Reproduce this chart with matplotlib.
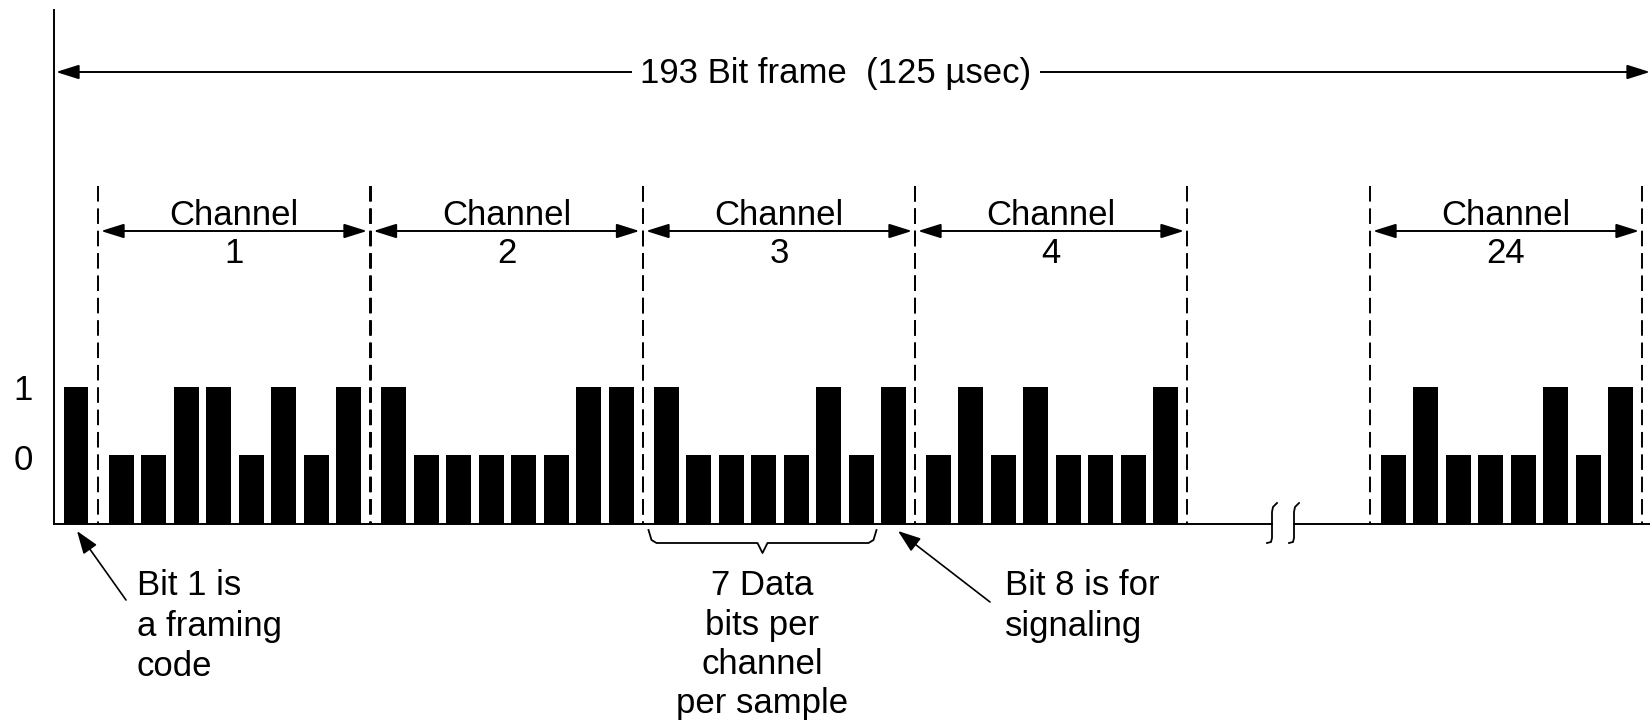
import matplotlib.pyplot as plt
from matplotlib.patches import FancyArrowPatch

plt.rcParams['font.family'] = ['Liberation Sans', 'DejaVu Sans']

# bit values
framing_bit = 1
channel_names = ['1', '2', '3', '4', '24']
channel_bits = [
    [0, 0, 1, 1, 0, 1, 0, 1],
    [1, 0, 0, 0, 0, 0, 1, 1],
    [1, 0, 0, 0, 0, 1, 0, 1],
    [0, 1, 0, 1, 0, 0, 0, 1],
    [0, 1, 0, 0, 0, 1, 0, 1],
]
level_labels = ['1', '0']
frame_label = '193 Bit frame  (125 \u00b5sec)'
note_framing = ['Bit 1 is', 'a framing', 'code']
note_data = ['7 Data', 'bits per', 'channel', 'per sample']
note_signal = ['Bit 8 is for', 'signaling']

# layout (pixel coords of the 1650x723 canvas)
W, H = 1650, 723
BASE = 524          # baseline of the bars
ZERO_H = 69         # height of a "0" bar
STEP = 68           # extra height of a "1" bar
BAR_W = 25
PITCH = 32.5
FIRST = 23          # offset of first bar centre from channel edge
CH_W = 272
channel_left = [98, 370.5, 643, 915, 1370]
FS = 25

fig = plt.figure(figsize=(16.5, 7.23), dpi=100)
ax = fig.add_axes([0, 0, 1, 1])
ax.set_xlim(0, W)
ax.set_ylim(H, 0)
ax.axis('off')

def bar_h(b):
    return ZERO_H + b * STEP

# axes lines
ax.plot([54, 54], [10, BASE], color='black', lw=1.4)
ax.plot([54, 1272], [BASE, BASE], color='black', lw=1.4)
ax.plot([1294, W], [BASE, BASE], color='black', lw=1.4)
# break marks on the time axis
for bx in [1272, 1294]:
    ax.plot([bx + 5, bx + 1, bx, bx, bx - 1, bx - 5],
            [503, 507, 512, 538, 542, 543], color='black', lw=1.3)

# framing bit
ax.bar([channel_left[0] - 22.5], [-bar_h(framing_bit)], bottom=BASE,
       width=24, color='black')

# channels
for left, name, bits in zip(channel_left, channel_names, channel_bits):
    xs = [left + FIRST + i * PITCH for i in range(len(bits))]
    ax.bar(xs, [-bar_h(b) for b in bits], bottom=BASE, width=BAR_W,
           color='black')
    right = left + CH_W
    for dx in [left, right]:
        ax.plot([dx, dx], [186, BASE], color='black', lw=1.4,
                dashes=(8, 3.5))
    ax.add_patch(FancyArrowPatch((left + 3, 231), (right - 3, 231),
                                 arrowstyle='<|-|>,head_length=0.7,head_width=0.22',
                                 mutation_scale=20, color='black', lw=1.4,
                                 shrinkA=0, shrinkB=0))
    cx = left + CH_W / 2
    ax.text(cx, 225, 'Channel', ha='center', va='baseline', fontsize=FS)
    ax.text(cx, 263, name, ha='center', va='baseline', fontsize=FS)

# level labels
for lab, yb in zip(level_labels, [400, 470]):
    ax.text(23, yb, lab, ha='center', va='baseline', fontsize=FS)

# frame length arrow
ax.add_patch(FancyArrowPatch((56, 72), (W, 72),
                             arrowstyle='<|-|>,head_length=0.7,head_width=0.22',
                             mutation_scale=20, color='black', lw=1.4,
                             shrinkA=0, shrinkB=0))
ax.text(836, 83, frame_label, ha='center', va='baseline', fontsize=FS,
        bbox=dict(facecolor='white', edgecolor='none', pad=6))

# annotation: framing bit
ax.annotate('', xy=(77, 531), xytext=(126, 600),
            arrowprops=dict(arrowstyle='-|>,head_length=0.7,head_width=0.25',
                            color='black', lw=1.2, mutation_scale=20,
                            shrinkA=0, shrinkB=0))
for line, yb in zip(note_framing, [595, 636, 676]):
    ax.text(137, yb, line, ha='left', va='baseline', fontsize=FS)

# annotation: data bits brace under channel 3
c3 = channel_left[2] + FIRST
bl = c3 - BAR_W / 2 - 5
br = c3 + 6 * PITCH + BAR_W / 2 + 3
bm = (bl + br) / 2
ax.plot([bl, bl + 3, bl + 8, bm - 5, bm, bm + 5, br - 8, br - 3, br],
        [530, 540, 543, 543, 553, 543, 543, 540, 530], color='black', lw=1.3)
for line, yb in zip(note_data, [595, 635, 674, 713]):
    ax.text(bm, yb, line, ha='center', va='baseline', fontsize=FS)

# annotation: signaling bit
ax.annotate('', xy=(898, 531), xytext=(990, 602),
            arrowprops=dict(arrowstyle='-|>,head_length=0.7,head_width=0.25',
                            color='black', lw=1.2, mutation_scale=20,
                            shrinkA=0, shrinkB=0))
for line, yb in zip(note_signal, [595, 636]):
    ax.text(1005, yb, line, ha='left', va='baseline', fontsize=FS)

fig.savefig('out.png', dpi=100, facecolor='white')
